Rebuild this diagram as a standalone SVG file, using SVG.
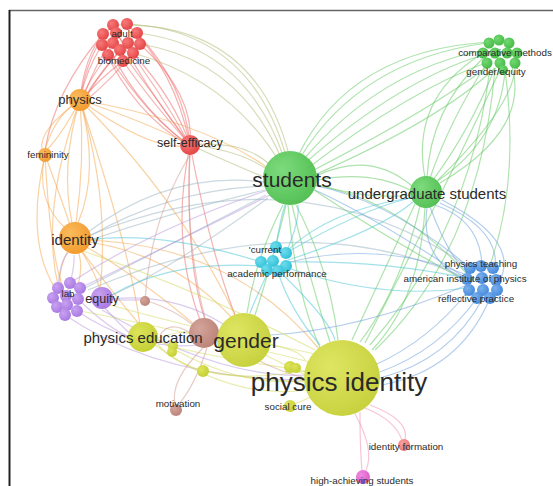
<svg xmlns="http://www.w3.org/2000/svg" width="553" height="486" viewBox="0 0 553 486">
<style>
.e path{fill:none;stroke-width:1.2;stroke-opacity:.5}
.r{stroke:#ee6464}.o{stroke:#f4a64a}.g{stroke:#5cc85c}.y{stroke:#d2da58}.c{stroke:#46c4d6}
.b{stroke:#6a9edc}.p{stroke:#b898e0}.n{stroke:#cf9a90}.k{stroke:#f08cb0}.t{stroke:#b0b870}.s{stroke:#98b4c4}
text{font-family:"Liberation Sans",Arial,sans-serif;fill:#2a2a2a;text-anchor:middle}
.l9{font-size:9.8px}
</style>
<defs>
<radialGradient id="gR" cx=".35" cy=".35" r=".7"><stop offset="0" stop-color="#f77a7a"/><stop offset="1" stop-color="#e44444"/></radialGradient>
<radialGradient id="gO" cx=".35" cy=".35" r=".7"><stop offset="0" stop-color="#fbbb5c"/><stop offset="1" stop-color="#f29a2e"/></radialGradient>
<radialGradient id="gG" cx=".35" cy=".35" r=".7"><stop offset="0" stop-color="#72d872"/><stop offset="1" stop-color="#46bb46"/></radialGradient>
<radialGradient id="gY" cx=".35" cy=".35" r=".7"><stop offset="0" stop-color="#dde45a"/><stop offset="1" stop-color="#c4cf34"/></radialGradient>
<radialGradient id="gC" cx=".35" cy=".35" r=".7"><stop offset="0" stop-color="#6ddcec"/><stop offset="1" stop-color="#30c0d8"/></radialGradient>
<radialGradient id="gB" cx=".35" cy=".35" r=".7"><stop offset="0" stop-color="#7ab0ec"/><stop offset="1" stop-color="#4488dc"/></radialGradient>
<radialGradient id="gP" cx=".35" cy=".35" r=".7"><stop offset="0" stop-color="#c8a2f0"/><stop offset="1" stop-color="#a878e2"/></radialGradient>
<radialGradient id="gN" cx=".35" cy=".35" r=".7"><stop offset="0" stop-color="#d4a49a"/><stop offset="1" stop-color="#bb8378"/></radialGradient>
<radialGradient id="gK" cx=".35" cy=".35" r=".7"><stop offset="0" stop-color="#f08ae0"/><stop offset="1" stop-color="#dc5cc8"/></radialGradient>
<radialGradient id="gF" cx=".35" cy=".35" r=".7"><stop offset="0" stop-color="#f8a0a0"/><stop offset="1" stop-color="#ec7474"/></radialGradient>
</defs>
<rect width="553" height="486" fill="#fff"/>
<line x1="9" y1="10.5" x2="553" y2="10.5" stroke="#666" stroke-width="1.5"/>
<line x1="9.5" y1="10" x2="9.5" y2="486" stroke="#222" stroke-width="2"/>
<g id="connectors" class="e">
<path class="r" d="M103,34 Q84,58 80,100"/><path class="r" d="M113,25 Q88,50 80,100"/><path class="r" d="M102,45 Q86,70 80,100"/>
<path class="r" d="M108,55 Q90,78 81,100"/><path class="r" d="M116,33 Q96,62 82,100"/><path class="r" d="M123,61 Q98,80 82,100"/>
<path class="r" d="M128,43 Q102,68 83,100"/><path class="r" d="M137,33 Q108,60 84,100"/><path class="r" d="M140,44 Q112,80 84,102"/>
<path class="r" d="M113,25 Q140,80 190,145"/><path class="r" d="M127,24 Q175,70 190,145"/><path class="r" d="M137,33 Q185,85 190,145"/>
<path class="r" d="M140,44 Q195,95 190,145"/><path class="r" d="M102,45 Q135,115 188,145"/><path class="r" d="M108,55 Q150,120 190,145"/>
<path class="r" d="M120,50 Q165,110 190,145"/><path class="r" d="M123,61 Q150,100 190,145"/><path class="r" d="M133,53 Q175,100 190,145"/>
<path class="r" d="M116,33 Q160,90 190,145"/><path class="r" d="M103,34 Q130,100 188,145"/><path class="r" d="M103,34 Q55,90 45,150"/>
<path class="r" d="M190,145 Q170,240 200,320"/><path class="r" d="M190,145 Q185,260 205,320"/><path class="r" d="M190,145 Q210,250 235,315"/>
<path class="t" d="M127,24 Q250,30 286,156"/><path class="t" d="M137,33 Q245,45 284,158"/><path class="t" d="M140,44 Q240,60 282,160"/>
<path class="t" d="M133,53 Q230,80 280,163"/><path class="t" d="M113,25 Q255,20 289,155"/>
<path class="t" d="M190,145 Q240,150 268,170"/><path class="t" d="M190,145 Q235,165 266,178"/><path class="t" d="M190,145 Q245,140 270,165"/>
<path class="o" d="M80,100 Q55,115 45,150"/><path class="o" d="M80,100 Q65,130 47,150"/><path class="o" d="M80,100 Q38,130 42,150"/>
<path class="o" d="M80,100 Q100,170 78,223"/><path class="o" d="M80,100 Q60,165 72,223"/><path class="o" d="M80,100 Q85,160 76,223"/>
<path class="o" d="M45,155 Q35,200 65,228"/><path class="o" d="M45,155 Q60,195 70,225"/><path class="o" d="M45,155 Q25,240 55,288"/>
<path class="o" d="M45,155 Q50,250 62,285"/><path class="o" d="M80,100 Q40,210 58,285"/><path class="o" d="M80,100 Q110,200 100,290"/>
<path class="o" d="M80,100 Q140,120 185,142"/><path class="o" d="M80,100 Q150,150 184,146"/><path class="o" d="M80,100 Q200,120 268,168"/>
<path class="o" d="M80,100 Q130,250 140,325"/><path class="o" d="M80,100 Q180,200 235,315"/>
<path class="o" d="M74,240 Q58,265 60,285"/><path class="o" d="M74,240 Q85,262 78,285"/><path class="o" d="M74,240 Q95,270 100,290"/>
<path class="o" d="M74,240 Q110,290 140,325"/><path class="o" d="M74,240 Q130,270 195,325"/><path class="o" d="M74,240 Q170,250 232,318"/>
<path class="o" d="M74,240 Q230,240 320,350"/>
<path class="g" d="M300,158 Q360,60 487,43"/><path class="g" d="M303,160 Q380,70 485,50"/><path class="g" d="M305,163 Q400,80 483,55"/>
<path class="g" d="M308,168 Q410,90 488,62"/><path class="g" d="M310,172 Q430,110 490,65"/><path class="g" d="M312,176 Q440,120 495,68"/>
<path class="g" d="M298,156 Q350,50 490,42"/>
<path class="g" d="M427,178 Q430,110 483,58"/><path class="g" d="M430,178 Q450,120 487,63"/><path class="g" d="M433,180 Q470,130 495,68"/>
<path class="g" d="M436,182 Q500,140 505,70"/><path class="g" d="M440,183 Q530,130 512,66"/><path class="g" d="M438,180 Q520,100 515,60"/>
<path class="g" d="M425,178 Q410,100 480,55"/>
<path class="g" d="M490,68 Q470,230 370,345"/><path class="g" d="M495,68 Q480,250 375,350"/><path class="g" d="M500,70 Q440,200 365,343"/>
<path class="g" d="M505,70 Q520,180 490,265"/>
<path class="g" d="M318,180 Q370,170 410,190"/><path class="g" d="M318,185 Q370,200 410,195"/><path class="g" d="M316,176 Q370,150 412,186"/>
<path class="g" d="M292,205 Q310,280 330,342"/><path class="g" d="M296,205 Q330,270 338,340"/><path class="g" d="M288,205 Q295,290 320,348"/>
<path class="g" d="M286,205 Q270,270 255,315"/><path class="g" d="M283,205 Q255,260 247,313"/>
<path class="g" d="M315,185 Q400,200 468,275"/><path class="g" d="M314,190 Q390,240 468,282"/>
<path class="g" d="M420,206 Q400,290 360,342"/><path class="g" d="M425,207 Q420,300 372,350"/><path class="g" d="M415,204 Q380,280 352,340"/>
<path class="s" d="M265,182 Q170,170 88,232"/><path class="s" d="M265,186 Q170,190 90,236"/><path class="s" d="M265,190 Q180,210 90,240"/>
<path class="s" d="M266,195 Q160,250 85,288"/><path class="s" d="M268,198 Q170,270 110,296"/>
<path class="s" d="M470,268 Q300,150 90,235"/><path class="s" d="M470,280 Q300,200 88,290"/>
<path class="b" d="M430,207 Q450,260 468,272"/><path class="b" d="M435,205 Q480,220 482,265"/><path class="b" d="M440,203 Q500,230 495,268"/>
<path class="b" d="M427,208 Q420,260 466,280"/><path class="b" d="M442,200 Q520,240 500,280"/>
<path class="b" d="M470,268 Q390,200 312,185"/><path class="b" d="M467,279 Q380,220 315,190"/>
<path class="b" d="M469,290 Q430,340 375,365"/><path class="b" d="M477,298 Q440,350 380,372"/><path class="b" d="M483,298 Q450,360 380,378"/>
<path class="b" d="M490,298 Q460,370 382,385"/><path class="b" d="M467,285 Q360,330 270,335"/><path class="b" d="M467,275 Q380,240 290,262"/>
<path class="c" d="M410,198 Q330,210 288,250"/><path class="c" d="M276,247 Q280,220 285,205"/><path class="c" d="M286,253 Q300,220 298,205"/>
<path class="c" d="M286,253 Q360,210 410,198"/><path class="c" d="M288,260 Q380,230 413,202"/><path class="c" d="M288,262 Q380,260 466,278"/>
<path class="c" d="M288,268 Q380,300 468,288"/><path class="c" d="M268,272 Q255,300 250,313"/><path class="c" d="M278,272 Q290,310 320,345"/>
<path class="c" d="M261,262 Q160,230 88,240"/><path class="c" d="M261,266 Q170,260 112,295"/><path class="c" d="M280,272 Q330,320 335,340"/>
<path class="p" d="M70,283 Q150,230 268,190"/><path class="p" d="M80,288 Q160,250 270,195"/><path class="p" d="M77,311 Q150,360 225,340"/>
<path class="p" d="M65,315 Q160,380 310,380"/><path class="p" d="M102,300 Q170,290 225,325"/><path class="p" d="M102,305 Q125,330 132,335"/>
<path class="p" d="M110,300 L140,300"/><path class="p" d="M102,310 Q220,380 310,375"/><path class="p" d="M78,299 Q110,330 132,338"/>
<path class="p" d="M58,288 Q60,260 68,253"/><path class="p" d="M66,296 Q75,270 74,255"/>
<path class="y" d="M158,338 Q195,325 218,338"/><path class="y" d="M158,340 Q240,390 305,380"/><path class="y" d="M155,345 Q230,400 306,390"/>
<path class="y" d="M270,345 Q300,350 305,360"/><path class="y" d="M265,355 Q300,372 305,375"/><path class="y" d="M173,347 Q230,360 300,370"/>
<path class="y" d="M203,371 Q260,380 305,382"/><path class="y" d="M292,367 L305,372"/><path class="y" d="M342,378 Q310,400 290,405"/>
<path class="y" d="M320,355 Q200,330 110,305"/><path class="y" d="M315,350 Q200,290 80,250"/><path class="y" d="M310,362 Q180,330 75,310"/>
<path class="y" d="M310,370 Q200,390 158,345"/>
<path class="n" d="M203,348 Q170,380 175,404"/><path class="n" d="M207,348 Q195,385 179,404"/><path class="n" d="M205,318 Q185,240 190,155"/>
<path class="n" d="M218,338 Q270,370 305,378"/><path class="n" d="M190,333 Q170,320 160,335"/><path class="n" d="M145,300 Q175,310 193,325"/>
<path class="n" d="M145,300 Q150,220 190,155"/>
<path class="k" d="M355,414 Q375,450 366,470"/><path class="k" d="M360,412 Q360,450 362,470"/><path class="k" d="M365,408 Q395,420 402,440"/>
<path class="k" d="M370,405 Q410,420 405,440"/>
</g>
<g id="adult-cluster" fill="url(#gR)">
<circle cx="113" cy="25" r="6"/><circle cx="127" cy="24" r="6"/><circle cx="103" cy="34" r="6"/><circle cx="116" cy="33" r="6"/>
<circle cx="137" cy="33" r="6"/><circle cx="102" cy="45" r="6"/><circle cx="113" cy="43" r="6"/><circle cx="128" cy="43" r="6"/>
<circle cx="140" cy="44" r="6"/><circle cx="108" cy="55" r="6"/><circle cx="120" cy="50" r="6"/><circle cx="133" cy="53" r="6"/>
<circle cx="123" cy="61" r="6"/>
<text class="l9" x="122" y="37">adult</text><text class="l9" x="124" y="64">biomedicine</text>
</g>
<g id="physics"><circle cx="80" cy="100" r="11" fill="url(#gO)"/><text x="80" y="104" font-size="13">physics</text></g>
<g id="femininity"><circle cx="45" cy="155" r="7" fill="url(#gO)"/><text class="l9" x="48" y="158">femininity</text></g>
<g id="self-efficacy"><circle cx="190" cy="145" r="10" fill="url(#gR)"/><text x="190" y="147" font-size="12.5">self-efficacy</text></g>
<g id="comparative-cluster" fill="url(#gG)">
<circle cx="489" cy="43" r="5.5"/><circle cx="499" cy="40" r="5.5"/><circle cx="509" cy="43" r="5.5"/><circle cx="483" cy="53" r="5.5"/>
<circle cx="517" cy="53" r="5.5"/><circle cx="495" cy="53" r="5.5"/><circle cx="507" cy="53" r="5.5"/><circle cx="487" cy="63" r="5.5"/>
<circle cx="500" cy="63" r="5.5"/><circle cx="515" cy="63" r="5.5"/><circle cx="503" cy="70" r="5"/>
<text class="l9" x="505" y="56">comparative methods</text><text class="l9" x="496" y="75">gender/equity</text>
</g>
<g id="students"><circle cx="290" cy="178" r="27" fill="url(#gG)" fill-opacity=".92"/><text x="292" y="187" font-size="21">students</text></g>
<g id="undergraduate-students"><circle cx="426" cy="192" r="16" fill="url(#gG)" fill-opacity=".92"/><text x="427" y="199" font-size="15">undergraduate students</text></g>
<g id="identity"><circle cx="75" cy="238" r="16" fill="url(#gO)"/><text x="75" y="245" font-size="15">identity</text></g>
<g id="current-cluster" fill="url(#gC)">
<circle cx="276" cy="247" r="6"/><circle cx="286" cy="253" r="6"/><circle cx="261" cy="262" r="6"/><circle cx="273" cy="261" r="6"/>
<circle cx="286" cy="266" r="6"/><circle cx="267" cy="270" r="6"/><circle cx="278" cy="271" r="6"/>
<text class="l9" x="265" y="253">'current</text><text class="l9" x="277" y="277">academic performance</text>
</g>
<g id="physics-teaching-cluster" fill="url(#gB)">
<circle cx="470" cy="268" r="6"/><circle cx="481" cy="266" r="6"/><circle cx="493" cy="268" r="6"/><circle cx="467" cy="279" r="6"/>
<circle cx="482" cy="278" r="6"/><circle cx="496" cy="280" r="6"/><circle cx="469" cy="290" r="6"/><circle cx="483" cy="290" r="6"/>
<circle cx="497" cy="290" r="6"/><circle cx="477" cy="298" r="6"/><circle cx="490" cy="298" r="6"/>
<text class="l9" x="481" y="267">physics teaching</text><text class="l9" x="465" y="282">american institute of physics</text><text class="l9" x="476" y="302">reflective practice</text>
</g>
<g id="lab-cluster" fill="url(#gP)">
<circle cx="70" cy="283" r="6"/><circle cx="58" cy="288" r="6"/><circle cx="80" cy="288" r="6"/><circle cx="53" cy="298" r="6"/>
<circle cx="66" cy="296" r="6"/><circle cx="78" cy="299" r="6"/><circle cx="57" cy="307" r="6"/><circle cx="67" cy="305" r="6"/>
<circle cx="77" cy="311" r="6"/><circle cx="65" cy="315" r="6"/>
<text class="l9" x="68" y="297">lab</text>
</g>
<g id="equity"><circle cx="102" cy="298" r="11" fill="url(#gP)"/><text x="102" y="303" font-size="12.5">equity</text></g>
<g id="small-brown"><circle cx="145" cy="301" r="5" fill="url(#gN)"/></g>
<g id="small-yellow-nodes" fill="url(#gY)">
<circle cx="173" cy="346" r="5"/><circle cx="172" cy="352" r="5"/><circle cx="203" cy="371" r="6"/>
<circle cx="290" cy="367" r="6"/><circle cx="296" cy="368" r="5"/>
</g>
<g id="brown-node"><circle cx="204" cy="333" r="15" fill="url(#gN)"/></g>
<g id="physics-education"><circle cx="143" cy="337" r="15" fill="url(#gY)"/><text x="143" y="343" font-size="15">physics education</text></g>
<g id="gender"><circle cx="244" cy="340" r="27" fill="url(#gY)" fill-opacity=".95"/><text x="246" y="348" font-size="21">gender</text></g>
<g id="physics-identity"><circle cx="342" cy="378" r="38" fill="url(#gY)" fill-opacity=".95"/><text x="339" y="391" font-size="26">physics identity</text></g>
<g id="motivation"><circle cx="176" cy="410" r="6" fill="url(#gN)"/><text class="l9" x="178" y="407">motivation</text></g>
<g id="social-cue"><circle cx="290" cy="406" r="6" fill="url(#gY)"/><text class="l9" x="288" y="410">social cure</text></g>
<g id="identity-formation"><circle cx="404" cy="445" r="6" fill="url(#gF)"/><text class="l9" x="406" y="450">identity formation</text></g>
<g id="high-achieving-students"><circle cx="363" cy="477" r="7" fill="url(#gK)"/><text class="l9" x="362" y="484">high-achieving students</text></g>
</svg>
